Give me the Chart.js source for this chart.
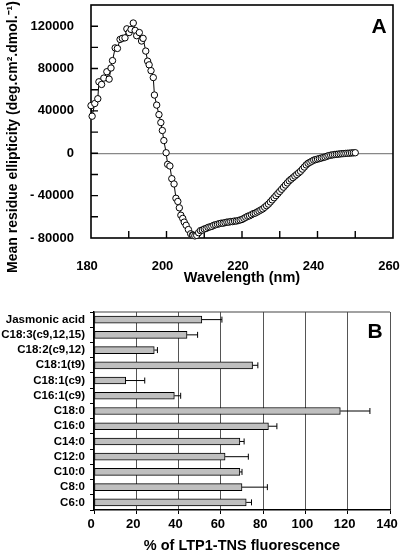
<!DOCTYPE html>
<html>
<head>
<meta charset="utf-8">
<script src="https://cdn.jsdelivr.net/npm/chart.js@4.4.1/dist/chart.umd.min.js"></script>
<style>
html,body{margin:0;padding:0;background:#fff;}
#wrap{position:relative;width:400px;height:555px;overflow:hidden;background:#fff;}
canvas{position:absolute;left:0;}
#cdChart{top:0;}
#barChart{top:290px;}
</style>
</head>
<body>
<div id="wrap">
<canvas id="cdChart" width="400" height="290"></canvas>
<canvas id="barChart" width="400" height="265"></canvas>
</div>
<script>
// panel A: CD spectrum
const wavelength = [
180.0,180.3,181.0,181.8,182.1,182.8,183.4,184.2,184.8,185.3,185.7,186.4,187.0,187.7,188.3,189.0,189.5,
190.1,190.6,191.2,191.7,192.1,192.8,193.4,193.8,194.5,195.0,195.4,195.9,196.5,196.8,197.4,198.0,198.5,
198.9,199.3,199.9,200.3,200.9,201.4,202.0,202.5,203.0,203.4,203.8,204.3,204.7,205.2,205.8,206.4,206.9,
207,207.5,208,208.5,209,209.5,210,210.5,211,211.5,212,212.5,213,213.5,214,214.5,215,215.5,216,216.5,
217,217.5,218,218.5,219,219.5,220,220.5,221,221.5,222,222.5,223,223.5,224,224.5,225,225.5,226,226.5,
227,227.5,228,228.5,229,229.5,230,230.5,231,231.5,232,232.5,233,233.5,234,234.5,235,235.5,236,236.5,
237,237.5,238,238.5,239,239.5,240,240.5,241,241.5,242,242.5,243,243.5,244,244.5,245,245.5,246,246.5,
247,247.5,248,248.5,249,249.5,250
];
const ellipticity = [
45000,35000,47000,51500,67500,65000,71000,77000,70000,80500,87500,99500,99000,107500,108500,109000,117500,
114000,117000,123000,116000,111000,114000,106000,108500,96500,87000,83500,78000,71500,55000,45500,36500,29000,
21500,12000,500,-10500,-12000,-24000,-29000,-42500,-45500,-51500,-58500,-61500,-65000,-68000,-72000,-76000,-77000,
-77500,-78000,-77500,-75000,-73000,-72500,-71500,-71000,-70000,-69500,-69000,-68000,-67500,-67000,-66500,-66000,-66000,-65500,-65000,-65000,
-64500,-64500,-64000,-64000,-63500,-63000,-62500,-61500,-60500,-59500,-59000,-58000,-57000,-56500,-55500,-54500,-53500,-52500,-51000,-49500,
-48000,-46000,-44000,-42000,-40000,-38000,-36000,-34000,-32000,-30000,-28000,-26000,-24500,-23000,-21500,-20000,-18500,-17000,-15000,-13000,
-11000,-9500,-8500,-7500,-6500,-6000,-5500,-5000,-4500,-4000,-3500,-2800,-2200,-1800,-1500,-1200,-1000,-800,-600,-400,
-300,-100,0,100,300,400,500
];
const xTickMarks = [190,200,210,220,230,240,250];
const yTickMarks = [-60000,-40000,-20000,0,20000,40000,60000,80000,100000,120000];

// panel B: fluorescence
const fattyAcids = ["Jasmonic acid","C18:3(c9,12,15)","C18:2(c9,12)","C18:1(t9)","C18:1(c9)","C16:1(c9)",
"C18:0","C16:0","C14:0","C12:0","C10:0","C8:0","C6:0"];
const fluorescence = [51,44,28.5,75,15,38,116.5,82.5,69,62,69,70,72];
const fluoErr = [9.5,5,1.5,2.5,9,3,14,4,2,11,1,12,2.5];

const FONT = '"Liberation Sans", Arial, Helvetica, sans-serif';

const frameA = {
id:"frameA",
beforeDatasetsDraw(chart){
const {ctx, chartArea:a, scales:{x,y}} = chart;
ctx.save();
ctx.strokeStyle="#000";
ctx.lineWidth=1.6;
ctx.strokeRect(a.left,a.top,a.right-a.left,a.bottom-a.top);
ctx.lineWidth=1.4;
ctx.beginPath();
xTickMarks.forEach(v=>{
const px=x.getPixelForValue(v);
ctx.moveTo(px,a.bottom);
ctx.lineTo(px,a.bottom-7);
});
yTickMarks.forEach(v=>{
const py=y.getPixelForValue(v);
ctx.moveTo(a.left,py);
ctx.lineTo(a.left+7,py);
});
ctx.stroke();
ctx.restore();
},
afterDraw(chart){
const ctx=chart.ctx;
ctx.save();
ctx.fillStyle="#000";
ctx.font="bold 21px "+FONT;
ctx.textAlign="center";
ctx.textBaseline="middle";
ctx.fillText("A",379,27);
ctx.translate(13,137);
ctx.rotate(-Math.PI/2);
ctx.font="bold 14px "+FONT;
ctx.fillText("Mean residue ellipticity (deg.cm\u00b2.dmol.\u207b\u00b9)",0,0);
ctx.restore();
}
};

const cdChart = new Chart(document.getElementById("cdChart"),{
type:"scatter",
data:{
datasets:[{
data:wavelength.map((w,i)=>({x:w,y:ellipticity[i]})),
showLine:true,
borderColor:"#000",
borderWidth:1,
pointRadius:3.2,
pointBackgroundColor:"#fff",
pointBorderColor:"#000",
pointBorderWidth:1,
clip:false
}]
},
options:{
responsive:false,
animation:false,
layout:{padding:{top:5,right:7,left:0,bottom:0}},
plugins:{legend:{display:false},tooltip:{enabled:false}},
scales:{
x:{
type:"linear",
min:180,max:260,
border:{display:false},
grid:{display:false},
ticks:{stepSize:20,padding:13,labelOffset:-4,color:"#000",maxRotation:0,font:{family:FONT,size:13,weight:"bold"}},
title:{display:true,text:"Wavelength (nm)",color:"#000",padding:{top:0,bottom:3},font:{family:FONT,size:14.5,weight:"bold"}},
afterFit(s){s.height=52;s.paddingLeft=0;s.paddingRight=0;}
},
y:{
min:-80000,max:140000,
border:{display:false},
grid:{drawTicks:false,lineWidth:1.2,color:c=>c.tick && c.tick.value===0 ? "#888" : "rgba(0,0,0,0)"},
ticks:{stepSize:20000,padding:17,color:"#000",font:{family:FONT,size:13,weight:"bold"},
callback:v=> v%40000===0 ? (v<0 ? "- "+Math.abs(v) : String(v)) : ""},
afterFit(s){s.width=91;s.paddingTop=0;s.paddingBottom=0;}
}
}
},
plugins:[frameA]
});

const errorBars = {
id:"errorBars",
beforeDatasetsDraw(chart){
const {ctx, chartArea:a} = chart;
ctx.save();
ctx.strokeStyle="#444";
ctx.lineWidth=1.2;
ctx.beginPath();
ctx.moveTo(a.left,a.top);
ctx.lineTo(a.right,a.top);
ctx.stroke();
ctx.restore();
},
afterDatasetsDraw(chart){
const {ctx, scales:{x,y}} = chart;
ctx.save();
ctx.strokeStyle="#000";
ctx.lineWidth=1;
ctx.beginPath();
fluorescence.forEach((v,i)=>{
const py=y.getPixelForValue(i);
const x0=x.getPixelForValue(v);
const x1=x.getPixelForValue(v+fluoErr[i]);
ctx.moveTo(x0,py);
ctx.lineTo(x1,py);
ctx.moveTo(x1,py-3);
ctx.lineTo(x1,py+3);
});
ctx.stroke();
ctx.restore();
},
afterDraw(chart){
const ctx=chart.ctx;
ctx.save();
ctx.fillStyle="#000";
ctx.font="bold 21px "+FONT;
ctx.textAlign="center";
ctx.textBaseline="middle";
ctx.fillText("B",375,42);
ctx.restore();
}
};

const barChart = new Chart(document.getElementById("barChart"),{
type:"bar",
data:{
labels:fattyAcids,
datasets:[{
data:fluorescence,
backgroundColor:"#bfbfbf",
borderColor:"#000",
borderWidth:1,
borderSkipped:false,
barThickness:7
}]
},
options:{
indexAxis:"y",
responsive:false,
animation:false,
layout:{padding:{top:22,right:10,left:0,bottom:0}},
plugins:{legend:{display:false},tooltip:{enabled:false}},
scales:{
x:{
min:0,max:140,
border:{color:"#000",width:1.5},
grid:{color:"#555",lineWidth:1,tickLength:4,tickColor:"#000"},
ticks:{stepSize:20,padding:3,labelOffset:-3,color:"#000",maxRotation:0,font:{family:FONT,size:13,weight:"bold"}},
title:{display:true,text:"% of LTP1-TNS fluorescence",color:"#000",padding:{top:0,bottom:0},font:{family:FONT,size:14.5,weight:"bold"}},
afterFit(s){s.height=45;s.paddingLeft=0;s.paddingRight=0;}
},
y:{
border:{color:"#000",width:1.5},
grid:{drawOnChartArea:false,tickLength:4,tickColor:"#000"},
ticks:{padding:5,color:"#000",autoSkip:false,font:{family:FONT,size:11.5,weight:"bold"}},
afterFit(s){s.width=94;s.paddingTop=0;s.paddingBottom=0;}
}
}
},
plugins:[errorBars]
});
</script>
</body>
</html>
